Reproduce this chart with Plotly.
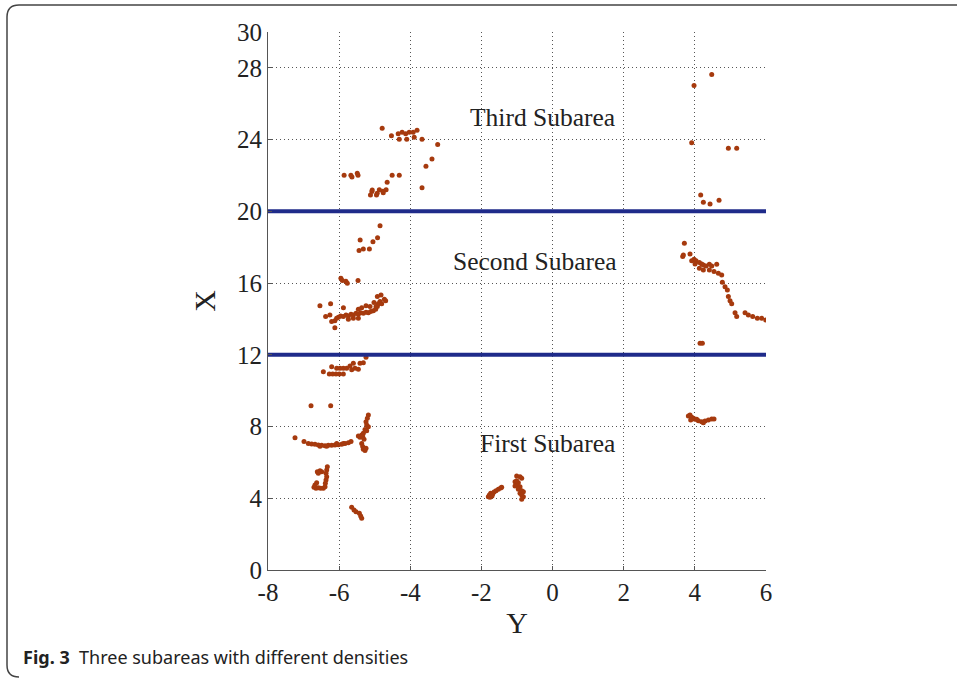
import plotly.graph_objects as go

# ---- data (Y = horizontal, X = vertical) ----
third_y = [-4.79, -4.53, -4.34, -4.23, -4.13, -4.03, -3.92, -3.81, -4.31, -4.10, -3.89, -3.67,
           -3.23, -3.39, -3.56, -3.67, -5.86, -5.67, -5.64, -5.49, -5.47, -4.51, -4.31, -4.65,
           -4.68, -4.77, -4.87, -4.76, -4.93, -4.95, -5.07, -5.08, -5.12,
           3.977, 4.474, 3.911, 4.942, 5.176, 4.164, 4.239, 4.427, 4.680]
third_x = [24.63, 24.22, 24.32, 24.41, 24.32, 24.41, 24.41, 24.52, 24.02, 24.02, 24.13, 24.02,
           23.72, 22.92, 22.52, 21.32, 22.01, 22.01, 21.92, 22.12, 22.01, 22.01, 22.01, 21.62,
           21.21, 21.12, 21.21, 21.03, 21.01, 20.91, 21.19, 21.10, 20.91,
           27.01, 27.63, 23.83, 23.52, 23.52, 20.91, 20.51, 20.41, 20.62]

second_left_y = [-4.85, -5.41, -5.44, -5.32, -5.15, -5.05, -4.92,
                 -5.95, -5.91, -5.81, -5.77, -5.47, -6.54, -6.24, -5.88, -6.38, -6.26, -6.21,
                 -6.12, -6.12, -6.07,
                 -6.02, -5.957, -5.882, -5.807, -5.741, -5.666, -5.601, -5.526, -5.460, -5.395,
                 -5.320, -5.245, -5.179, -5.113, -5.038, -4.973, -4.926, -4.898, -4.851, -4.804,
                 -4.729, -4.692, -5.460, -5.366, -5.245, -5.132, -5.020, -4.926, -4.823, -4.963,
                 -5.460, -5.741, -5.601]
second_left_x = [19.20, 18.40, 17.81, 17.90, 17.90, 18.31, 18.52,
                 16.27, 16.14, 16.10, 15.99, 16.14, 14.74, 14.84, 14.63, 14.13, 14.22, 13.85,
                 13.90, 13.51, 14.04,
                 14.09, 14.17, 14.13, 14.22, 14.17, 14.26, 14.22, 14.32, 14.26, 14.35,
                 14.32, 14.37, 14.35, 14.41, 14.46, 14.54, 14.69, 14.84, 14.97, 14.84,
                 15.10, 15.02, 14.54, 14.63, 14.74, 14.69, 14.91, 15.25, 15.34, 14.69,
                 14.04, 13.98, 14.04]

second_right_y = [3.705, 3.658, 3.677, 3.864, 3.911, 3.977, 4.033, 4.005, 4.127, 4.192, 4.239,
                  4.127, 4.239, 4.314, 4.408, 4.474, 4.408, 4.539, 4.614, 4.661, 4.755, 4.773,
                  4.848, 4.914, 4.942, 4.989, 5.036, 5.130, 5.176, 5.411, 5.504, 5.626, 5.757,
                  5.879, 5.992, 4.146, 4.211]
second_right_x = [18.22, 17.48, 17.57, 17.62, 17.25, 17.33, 17.25, 17.07, 17.14, 17.07, 17.01,
                  16.83, 16.73, 16.95, 17.05, 16.95, 16.73, 16.64, 17.05, 16.55, 16.45, 16.04,
                  15.80, 15.62, 15.25, 15.02, 14.84, 14.35, 14.13, 14.35, 14.22, 14.13, 14.04,
                  14.04, 13.94, 12.64, 12.64]

first_y = [-6.444, -6.276, -6.182, -6.088, -5.995, -5.882, -6.210, -6.069, -5.976, -5.882, -5.788,
           -5.695, -5.601, -5.554, -5.460, -5.413, -5.320, -5.245, -5.647,
           -6.791, -6.238, -7.241, -6.988,
           -6.866, -6.772, -6.679, -6.585, -6.491, -6.397, -6.304, -6.210, -6.116, -6.023,
           -5.929, -5.835, -5.741, -5.666, -6.538, -6.351, -6.069, -5.882,
           -5.179, -5.207, -5.245, -5.226, -5.179, -5.273, -5.226, -5.320, -5.366, -5.460,
           -5.413, -5.338, -5.301, -5.366, -5.338, -5.320, -5.273, -5.245,
           -6.332, -6.350, -6.369, -6.350, -6.369, -6.388, -6.397, -6.444, -6.519, -6.585,
           -6.650, -6.707, -6.679, -6.632, -6.613, -6.538, -6.491, -6.585,
           -5.648, -5.582, -5.526, -5.432, -5.395, -5.366,
           -1.806, -1.777, -1.740, -1.684, -1.646, -1.590, -1.524, -1.459, -1.431, -1.759, -1.702,
           -1.009, -0.915, -0.868, -1.056, -0.962, -1.009, -0.915, -0.962, -0.868, -0.821,
           -0.915, -0.868, -0.821, -0.868, -1.009, -1.056,
           3.817, 3.864, 3.911, 3.958, 4.005, 4.099, 4.192, 4.286, 4.380, 4.474, 4.539,
           3.883, 4.052, 4.239]
first_x = [11.06, 10.93, 10.93, 10.93, 10.93, 10.93, 11.34, 11.25, 11.25, 11.25, 11.25,
           11.38, 11.53, 11.25, 11.19, 11.53, 11.56, 11.86, 11.16,
           9.165, 9.165, 7.38, 7.16,
           7.06, 7.03, 7.01, 6.97, 6.95, 6.93, 6.95, 6.95, 6.97, 6.99,
           7.01, 7.05, 7.10, 7.16, 6.90, 6.90, 7.06, 7.06,
           8.64, 8.46, 8.27, 8.09, 7.99, 7.84, 7.77, 7.62, 7.53, 7.47,
           7.40, 7.44, 7.29, 7.06, 6.88, 6.73, 6.66, 6.79,
           5.763, 5.577, 5.391, 5.205, 5.019, 4.833, 4.647, 4.555, 4.555, 4.592,
           4.555, 4.610, 4.740, 4.870, 5.484, 5.540, 5.484, 5.391,
           3.495, 3.346, 3.253, 3.160, 3.011, 2.881,
           4.090, 4.183, 4.276, 4.239, 4.350, 4.425, 4.499, 4.574, 4.611, 4.053, 4.127,
           5.243, 5.205, 5.113, 4.927, 4.871, 4.741, 4.648, 4.499, 4.425, 4.369,
           4.276, 4.183, 4.090, 3.941, 4.982, 4.685,
           8.589, 8.645, 8.514, 8.459, 8.403, 8.328, 8.273, 8.310, 8.366, 8.421, 8.421,
           8.366, 8.403, 8.217]

boundary_x = [12, 20]
y_range = [-8, 6]
x_ticks = [0, 4, 8, 12, 16, 20, 24, 28, 30]
y_ticks = [-8, -6, -4, -2, 0, 2, 4, 6]

labels = ["Third Subarea", "Second Subarea", "First Subarea"]
label_y = [-0.27, -0.49, -0.13]
label_x = [25.26, 17.18, 7.08]

caption_bold = "Fig. 3"
caption_text = "Three subareas with different densities"

# ---- figure ----
W, H = 957, 678
L, R, T, B = 268, 766, 32, 570
fig = go.Figure()

dot_color = "#a63a0e"
all_y = third_y + second_left_y + second_right_y + first_y
all_x = third_x + second_left_x + second_right_x + first_x
fig.add_trace(go.Scatter(x=all_y, y=all_x, mode="markers",
                         marker=dict(size=5, color=dot_color, line=dict(width=0)),
                         showlegend=False, hoverinfo="skip"))

for bx in boundary_x:
    fig.add_trace(go.Scatter(x=y_range, y=[bx, bx], mode="lines",
                             line=dict(color="#1f2b8a", width=4),
                             showlegend=False, hoverinfo="skip"))

serif = "Liberation Serif, Times New Roman, serif"
for t, ly, lx in zip(labels, label_y, label_x):
    fig.add_annotation(x=ly, y=lx, text=t, showarrow=False,
                       font=dict(family=serif, size=25.5, color="#222"))

def px(xp):
    return (xp - L) / (R - L)

def py(yp):
    return (B - yp) / (B - T)

# caption
fig.add_annotation(xref="paper", yref="paper", x=px(21), y=py(657), xanchor="left", yanchor="middle",
                   text="<b>" + caption_bold + "</b>&nbsp;&nbsp;" + caption_text, showarrow=False,
                   font=dict(family="Noto Sans, Open Sans, sans-serif", size=18, color="#222"))

# rounded frame
r = 12
x0, y0, x1, y1 = 7, 5, 975, 677
path = (f"M {px(x0+r)},{py(y0)} L {px(x1)},{py(y0)} "
        f"M {px(x0+r)},{py(y0)} Q {px(x0)},{py(y0)} {px(x0)},{py(y0+r)} "
        f"L {px(x0)},{py(y1-r)} Q {px(x0)},{py(y1)} {px(x0+r)},{py(y1)}")
fig.add_shape(type="path", xref="paper", yref="paper", path=path,
              line=dict(color="#444", width=1.5), layer="above")

axis_common = dict(showgrid=True, gridcolor="#555", griddash="1px,3px", gridwidth=1,
                   showline=True, linecolor="#555", linewidth=1.2,
                   ticks="inside", ticklen=4, tickcolor="#555",
                   zeroline=False, mirror=False,
                   tickfont=dict(family=serif, size=25, color="#222"))

fig.update_xaxes(range=y_range, tickvals=y_ticks, ticktext=[str(v) for v in y_ticks],
                 title=dict(text="Y", font=dict(family=serif, size=30, color="#222"), standoff=6),
                 **axis_common)
fig.update_yaxes(range=[0, 30], tickvals=x_ticks, ticktext=[str(v) for v in x_ticks],
                 title=dict(text="X", font=dict(family=serif, size=30, color="#222"), standoff=12),
                 **axis_common)

fig.update_layout(width=W, height=H, margin=dict(l=L, r=W - R, t=T, b=H - B, pad=0),
                  paper_bgcolor="white", plot_bgcolor="white")

fig.write_html("out.html", config={"displayModeBar": False},
               post_script="document.body.style.margin='0';")
